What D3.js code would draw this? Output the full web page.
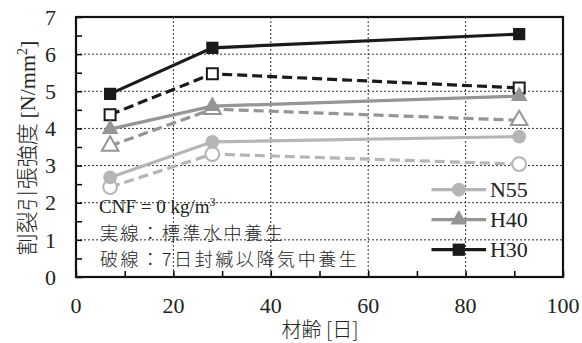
<!DOCTYPE html>
<html>
<head>
<meta charset="utf-8">
<script src="https://cdn.jsdelivr.net/npm/d3@7"></script>
<style>
  body { margin: 0; background: #fff; }
  svg { display: block; }
  .serif { font-family: "Liberation Serif", "Times New Roman", Times, "DejaVu Serif", serif; }
  .cjk { font-family: "Noto Sans CJK JP", "Noto Sans", sans-serif; font-weight: 300; }
</style>
</head>
<body>
<svg id="chart" width="582" height="343"></svg>
<script>
// material age (days)
var ages = [7, 28, 91];

// splitting tensile strength [N/mm2], solid = standard water curing, dashed = air curing after 7d sealed
var n55Solid = [2.68, 3.64, 3.78];
var n55Dash = [2.42, 3.31, 3.04];
var h40Solid = [3.98, 4.6, 4.87];
var h40Dash = [3.53, 4.52, 4.22];
var h30Solid = [4.93, 6.17, 6.54];
var h30Dash = [4.37, 5.47, 5.09];

var xTicks = [0, 20, 40, 60, 80, 100];
var yTicks = [0, 1, 2, 3, 4, 5, 6, 7];
var legendNames = ["N55", "H40", "H30"];

var svg = d3.select("#chart"),
    margin = { top: 17, right: 19, bottom: 66, left: 76 },
    width = 582 - margin.left - margin.right,
    height = 343 - margin.top - margin.bottom,
    g = svg.append("g").attr("transform", "translate(" + margin.left + "," + margin.top + ")");

var x = d3.scaleLinear().domain([0, 100]).range([0, width]);
var y = d3.scaleLinear().domain([0, 7]).range([height, 0]);

// grid
g.append("g").selectAll("line").data(yTicks.slice(1, 7)).enter().append("line")
    .attr("x1", 0).attr("x2", width)
    .attr("y1", function (d) { return y(d); }).attr("y2", function (d) { return y(d); })
    .attr("stroke", "#333").attr("stroke-width", 1).attr("stroke-dasharray", "2,2");
g.append("g").selectAll("line").data(xTicks.slice(1, 5)).enter().append("line")
    .attr("y1", 0).attr("y2", height)
    .attr("x1", function (d) { return x(d); }).attr("x2", function (d) { return x(d); })
    .attr("stroke", "#333").attr("stroke-width", 1).attr("stroke-dasharray", "2,2");

// axes with inward ticks
var xAxis = g.append("g")
    .attr("transform", "translate(0," + height + ")")
    .call(d3.axisBottom(x).tickValues(d3.range(0, 101, 10)).tickSize(-6).tickPadding(0).tickFormat(""));
xAxis.select(".domain").remove();
xAxis.selectAll("line").attr("stroke-width", 1.5);

var yAxis = g.append("g")
    .call(d3.axisLeft(y).tickValues(d3.range(0, 7.01, 0.5)).tickSize(-6).tickFormat(""));
yAxis.select(".domain").remove();
yAxis.selectAll("line").attr("stroke-width", 1.5);

g.append("g").selectAll("text").data(xTicks).enter().append("text")
    .attr("class", "serif")
    .attr("x", function (d) { return x(d); })
    .attr("y", height + 36)
    .attr("text-anchor", "middle")
    .style("font-size", "22px").attr("fill", "#222")
    .text(function (d) { return d; });

g.append("g").selectAll("text").data(yTicks).enter().append("text")
    .attr("class", "serif")
    .attr("x", -20)
    .attr("y", function (d) { return y(d); })
    .attr("dy", "0.35em")
    .attr("text-anchor", "end")
    .style("font-size", "22px").attr("fill", "#222")
    .text(function (d) { return d; });

// frame
g.append("rect").attr("width", width).attr("height", height)
    .attr("fill", "none").attr("stroke", "#111").attr("stroke-width", 2.2);

// axis titles
svg.append("text")
    .attr("class", "cjk")
    .attr("x", 320).attr("y", 337)
    .attr("text-anchor", "middle")
    .style("font-size", "20px").attr("fill", "#222")
    .text("材齢 [日]");

var yl = svg.append("text")
    .attr("transform", "translate(35,148) rotate(-90)")
    .attr("text-anchor", "middle")
    .style("font-size", "22px").attr("fill", "#222");
yl.append("tspan").attr("class", "cjk").text("割裂引張強度 ");
yl.append("tspan").attr("class", "serif").style("font-size", "22px").text("[N/mm");
yl.append("tspan").attr("class", "serif").style("font-size", "14px").attr("dy", "-8").text("2");
yl.append("tspan").attr("class", "serif").style("font-size", "22px").attr("dy", "8").text("]");

var series = [
    { vals: n55Dash, color: "#b5b5b5", dash: true, marker: "circle" },
    { vals: h40Dash, color: "#959595", dash: true, marker: "triangle" },
    { vals: h30Dash, color: "#1a1a1a", dash: true, marker: "square" },
    { vals: n55Solid, color: "#b5b5b5", dash: false, marker: "circle" },
    { vals: h40Solid, color: "#959595", dash: false, marker: "triangle" },
    { vals: h30Solid, color: "#1a1a1a", dash: false, marker: "square" }
];

var line = d3.line()
    .x(function (d, i) { return x(ages[i]); })
    .y(function (d) { return y(d); });

var symbols = {
    circle: d3.symbol().type(d3.symbolCircle).size(150),
    triangle: d3.symbol().type(d3.symbolTriangle).size(120),
    square: d3.symbol().type(d3.symbolSquare).size(150)
};

function drawMarker(sel, s, cx, cy) {
    var hollow = s.dash;
    var sym = s.marker == "square" && hollow ? d3.symbol().type(d3.symbolSquare).size(120) : symbols[s.marker];
    sel.append("path")
        .attr("d", sym())
        .attr("transform", "translate(" + cx + "," + cy + ")")
        .attr("fill", hollow ? "#fff" : s.color)
        .attr("stroke", s.color)
        .attr("stroke-width", hollow ? 2 : 0);
}

series.forEach(function (s) {
    g.append("path")
        .datum(s.vals)
        .attr("fill", "none")
        .attr("stroke", s.color)
        .attr("stroke-width", 3.2)
        .attr("stroke-dasharray", s.dash ? "10,5" : null)
        .attr("d", line);
});
series.forEach(function (s) {
    s.vals.forEach(function (v, i) {
        drawMarker(g, s, x(ages[i]), y(v));
    });
});

// annotation
var ann = g.append("g").style("fill", "#222");
var t1 = ann.append("text").attr("class", "serif").attr("x", 23).attr("y", y(1.72))
    .style("font-size", "19px");
t1.append("tspan").text("CNF = 0 kg/m");
t1.append("tspan").style("font-size", "12px").attr("dy", "-7").text("3");
ann.append("text").attr("class", "cjk").attr("x", 24).attr("y", y(1.0))
    .style("font-size", "18px").style("letter-spacing", "2.6px")
    .text("実線：標準水中養生");
ann.append("text").attr("class", "cjk").attr("x", 24).attr("y", y(0.3))
    .style("font-size", "18px").style("letter-spacing", "2.6px")
    .text("破線：7日封緘以降気中養生");

// legend
var legendSeries = [series[3], series[4], series[5]];
var lg = g.append("g");
legendNames.forEach(function (name, i) {
    var ly = y(2.35) + i * 30;
    lg.append("line")
        .attr("x1", x(73)).attr("x2", x(84.2))
        .attr("y1", ly).attr("y2", ly)
        .attr("stroke", legendSeries[i].color).attr("stroke-width", 3.2);
    drawMarker(lg, legendSeries[i], x(78.6), ly);
    lg.append("text")
        .attr("class", "serif")
        .attr("x", x(85)).attr("y", ly).attr("dy", "0.35em")
        .style("font-size", "22px").attr("fill", "#222")
        .text(name);
});
</script>
</body>
</html>
